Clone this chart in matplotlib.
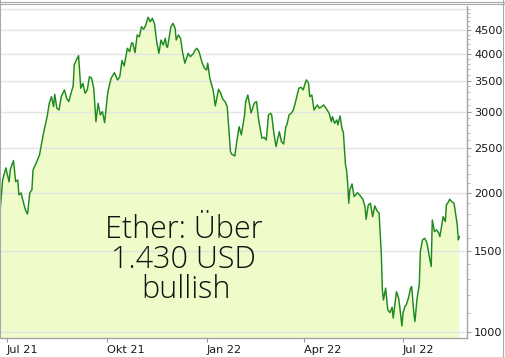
import matplotlib
matplotlib.use("Agg")
import matplotlib.pyplot as plt
from matplotlib.lines import Line2D
from matplotlib.ticker import FixedLocator, FixedFormatter, NullFormatter, NullLocator
import pandas as pd

dates = [
    "2021-06-25", "2021-06-27", "2021-06-30", "2021-07-01", "2021-07-03", "2021-07-04",
    "2021-07-07", "2021-07-08", "2021-07-09", "2021-07-11", "2021-07-12", "2021-07-14",
    "2021-07-16", "2021-07-18", "2021-07-20", "2021-07-22", "2021-07-24", "2021-07-25",
    "2021-07-28", "2021-07-31", "2021-08-02", "2021-08-04", "2021-08-07", "2021-08-09",
    "2021-08-11", "2021-08-13", "2021-08-14", "2021-08-16", "2021-08-18", "2021-08-20",
    "2021-08-23", "2021-08-25", "2021-08-27", "2021-08-29", "2021-08-31", "2021-09-01",
    "2021-09-03", "2021-09-05", "2021-09-07", "2021-09-09", "2021-09-11", "2021-09-13",
    "2021-09-15", "2021-09-17", "2021-09-19", "2021-09-21", "2021-09-23", "2021-09-25",
    "2021-09-27", "2021-09-29", "2021-10-02", "2021-10-05", "2021-10-08", "2021-10-11",
    "2021-10-13", "2021-10-15", "2021-10-17", "2021-10-20", "2021-10-22", "2021-10-24",
    "2021-10-25", "2021-10-27", "2021-10-29", "2021-10-31", "2021-11-02", "2021-11-04",
    "2021-11-06", "2021-11-08", "2021-11-09", "2021-11-10", "2021-11-12", "2021-11-14",
    "2021-11-16", "2021-11-18", "2021-11-20", "2021-11-22", "2021-11-24", "2021-11-25",
    "2021-11-26", "2021-11-29", "2021-12-01", "2021-12-03", "2021-12-04", "2021-12-06",
    "2021-12-08", "2021-12-10", "2021-12-12", "2021-12-15", "2021-12-17", "2021-12-20",
    "2021-12-21", "2021-12-23", "2021-12-25", "2021-12-28", "2021-12-30", "2022-01-01",
    "2022-01-02", "2022-01-04", "2022-01-07", "2022-01-09", "2022-01-12", "2022-01-14",
    "2022-01-16", "2022-01-18", "2022-01-20", "2022-01-23", "2022-01-24", "2022-01-27",
    "2022-01-29", "2022-01-31", "2022-02-02", "2022-02-05", "2022-02-06", "2022-02-08",
    "2022-02-11", "2022-02-14", "2022-02-16", "2022-02-18", "2022-02-21", "2022-02-23",
    "2022-02-25", "2022-02-27", "2022-03-01", "2022-03-02", "2022-03-04", "2022-03-06",
    "2022-03-07", "2022-03-09", "2022-03-11", "2022-03-13", "2022-03-15", "2022-03-16",
    "2022-03-18", "2022-03-20", "2022-03-22", "2022-03-24", "2022-03-27", "2022-03-29",
    "2022-03-31", "2022-04-02", "2022-04-03", "2022-04-05", "2022-04-06", "2022-04-08",
    "2022-04-10", "2022-04-12", "2022-04-13", "2022-04-15", "2022-04-17", "2022-04-19",
    "2022-04-22", "2022-04-24", "2022-04-26", "2022-04-27", "2022-04-29", "2022-05-01",
    "2022-05-02", "2022-05-04", "2022-05-06", "2022-05-07", "2022-05-09", "2022-05-10",
    "2022-05-11", "2022-05-12", "2022-05-13", "2022-05-15", "2022-05-17", "2022-05-20",
    "2022-05-22", "2022-05-25", "2022-05-27", "2022-05-28", "2022-05-30", "2022-06-01",
    "2022-06-03", "2022-06-05", "2022-06-07", "2022-06-09", "2022-06-11", "2022-06-12",
    "2022-06-13", "2022-06-15", "2022-06-17", "2022-06-19", "2022-06-21", "2022-06-22",
    "2022-06-25", "2022-06-27", "2022-06-28", "2022-06-30", "2022-07-01", "2022-07-03",
    "2022-07-04", "2022-07-06", "2022-07-08", "2022-07-09", "2022-07-11", "2022-07-12",
    "2022-07-14", "2022-07-16", "2022-07-17", "2022-07-19", "2022-07-21", "2022-07-23",
    "2022-07-25", "2022-07-27", "2022-07-28", "2022-07-30", "2022-08-01", "2022-08-03",
    "2022-08-04", "2022-08-06", "2022-08-07", "2022-08-09", "2022-08-10", "2022-08-12",
    "2022-08-13", "2022-08-15", "2022-08-17", "2022-08-18", "2022-08-20", "2022-08-21",
    "2022-08-22",
]

prices = [
    1867, 2133, 2265, 2209, 2112, 2242,
    2349, 2223, 2115, 2133, 1980, 2000,
    1914, 1837, 1800, 2000, 2030, 2242,
    2322, 2416, 2565, 2714, 2924, 3126,
    3231, 3074, 3270, 3050, 3024, 3231,
    3341, 3205, 3152, 3286, 3407, 3785,
    3880, 3963, 3369, 3453, 3286, 3341,
    3569, 3541, 3369, 2852, 3126, 2949,
    2998, 2838, 3313, 3541, 3642, 3512,
    3569, 3867, 3766, 4112, 4044, 4228,
    4216, 4024, 4394, 4356, 4579, 4520,
    4618, 4799, 4751, 4694, 4775, 4642,
    4250, 4010, 4285, 4180, 4322, 4145,
    4133, 4565, 4657, 4543, 4285, 4394,
    4322, 4010, 3817, 4010, 3944, 4010,
    4064, 4112, 4044, 3817, 3722, 3690,
    3817, 3541, 3341, 3085, 3352, 3286,
    3189, 3152, 3074, 2456, 2428, 2404,
    2603, 2782, 2670, 2949, 3152, 3258,
    2979, 3131, 3152, 2876, 2626, 2639,
    2603, 2949, 2974, 2949, 2692, 2518,
    2581, 2714, 2581, 2552, 2782, 2806,
    2949, 2974, 3024, 3152, 3369, 3386,
    3341, 3464, 3512, 3453, 3231, 3258,
    3024, 3074, 3100, 3050, 3074, 3100,
    3024, 2974, 2852, 2924, 2829, 2876,
    2806, 2934, 2737, 2714, 2299, 2242,
    2098, 1899, 2030, 2091, 1963, 2002,
    1980, 1937, 1867, 1754, 1883, 1899,
    1776, 1874, 1830, 1807, 1480, 1233,
    1173, 1244, 1116, 1101, 1131, 1071,
    1222, 1183, 1134, 1030, 1098, 1138,
    1144, 1183, 1244, 1253, 1098, 1053,
    1183, 1264, 1492, 1582, 1595, 1561,
    1468, 1385, 1747, 1649, 1663, 1636,
    1608, 1719, 1776, 1733, 1883, 1914,
    1937, 1914, 1899, 1837, 1704, 1582,
    1608,
]

y_ticks = [1000, 1500, 2000, 2500, 3000, 3500, 4000, 4500]
x_tick_dates = ["2021-07-01", "2021-10-01", "2022-01-01", "2022-04-01", "2022-07-01"]
x_tick_labels = ["Jul 21", "Okt 21", "Jan 22", "Apr 22", "Jul 22"]
annotation_lines = ["Ether: Über", "1.430 USD", "bullish"]

W, H = 506, 357
fig = plt.figure(figsize=(W / 100, H / 100), dpi=100)
fig.patch.set_facecolor("white")
ax = fig.add_axes([1 / W, 19 / H, 466 / W, 332 / H])
ax.set_facecolor("white")

x = pd.to_datetime(dates)
ax.set_yscale("log")
ax.fill_between(x, prices, 100, color="#EFFBC8", lw=0, zorder=1)
ax.plot(x, prices, color="#1E8A1E", lw=1.05, zorder=3)

ax.set_ylim(970, 5077)
ax.set_xlim(pd.Timestamp("2021-06-25 12:00"), pd.Timestamp("2022-08-29"))

for g in y_ticks + [5000]:
    ax.axhline(g, color="#E4E4E4", lw=1.0, zorder=2)

ax.yaxis.tick_right()
ax.yaxis.set_major_locator(FixedLocator(y_ticks))
ax.yaxis.set_major_formatter(FixedFormatter([str(v) for v in y_ticks]))
ax.yaxis.set_minor_locator(FixedLocator(list(range(1000, 5001, 100))))
ax.yaxis.set_minor_formatter(NullFormatter())
ax.tick_params(axis="y", which="major", direction="out", length=3, width=0.8,
               color="#9A9A9A", labelsize=8.1, labelcolor="#1A1A1A", pad=2)
ax.tick_params(axis="y", which="minor", direction="out", length=1.8, width=0.6,
               color="#B0B0B0")

ax.set_xticks(pd.to_datetime(x_tick_dates))
ax.set_xticklabels(x_tick_labels)
ax.tick_params(axis="x", which="major", direction="out", length=3, width=0.8,
               color="#9A9A9A", labelsize=8.1, labelcolor="#1A1A1A", pad=2)
for lab in ax.get_xticklabels():
    lab.set_horizontalalignment("left")
ax.xaxis.set_minor_locator(NullLocator())

for side in ["top", "left"]:
    ax.spines[side].set_visible(False)
for side in ["bottom", "right"]:
    ax.spines[side].set_color("#A6A6A6")
    ax.spines[side].set_linewidth(1.0)

# annotation: baselines in pixels from top of image
baselines = [238, 268, 298]
centers = [184, 183, 186]
for txt, b, cx in zip(annotation_lines, baselines, centers):
    ax.text(cx, H - b, txt, transform=None, ha="center", va="baseline",
            fontsize=22, family="Open Sans", fontweight="light", color="#111111",
            zorder=5)

bc = "#A8A8A8"
fig.add_artist(Line2D([0, 1], [1 - 1.5 / H, 1 - 1.5 / H], color=bc, lw=0.8))
fig.add_artist(Line2D([0, 1], [1 - 3.5 / H, 1 - 3.5 / H], color=bc, lw=0.8))
fig.add_artist(Line2D([0.5 / W, 0.5 / W], [19 / H, 1], color=bc, lw=0.8))
fig.add_artist(Line2D([1 - 2.5 / W, 1 - 2.5 / W], [0, 1], color=bc, lw=0.8))

fig.savefig("out.png", dpi=100)
